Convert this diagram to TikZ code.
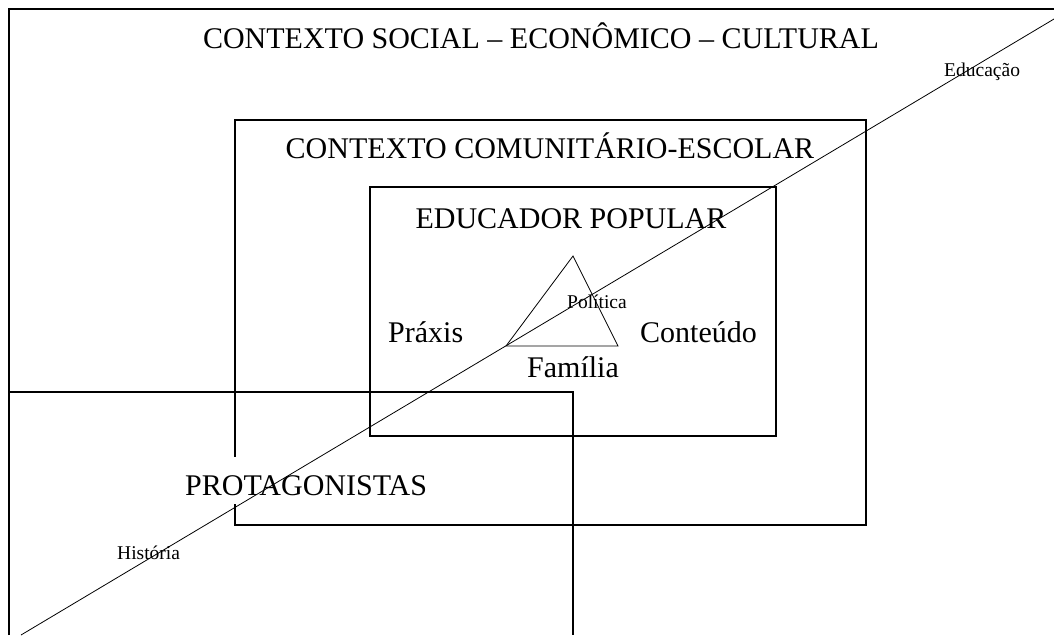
\documentclass[tikz,border=0pt]{standalone}
\usepackage{fontspec}
\setmainfont{Liberation Serif}

\tikzset{
  boxline/.style={line width=1.8pt},
  thinline/.style={line width=0.8pt},
  biglabel/.style={font=\fontsize{30}{36}\selectfont, inner sep=0pt},
  smalllabel/.style={font=\fontsize{19.5}{23}\selectfont, inner sep=0pt},
}

\begin{document}
\begin{tikzpicture}[x=1pt,y=-1pt]
\useasboundingbox (0,0) rectangle (1054,635);

% Outer context (only top and left edges in view)
\draw[boxline] (9,635) -- (9,9) -- (1054,9);

% Community-school box
\draw[boxline] (235,120) rectangle (866,525);

% Educator box
\draw[boxline] (370,187) rectangle (776,436);

% Protagonists box
\draw[boxline] (9,392) -- (573,392) -- (573,635);

% Titles of the boxes
\node[biglabel, anchor=base] (social) at (541,48) {CONTEXTO SOCIAL – ECONÔMICO – CULTURAL};
\node[biglabel, anchor=base] (escolar) at (550,158) {CONTEXTO COMUNITÁRIO-ESCOLAR};
\node[biglabel, anchor=base] (educador) at (571,228) {EDUCADOR POPULAR};
\node[biglabel, anchor=base west, fill=white, inner xsep=4pt, inner ysep=4pt,
      text height=34pt, text depth=5pt] (protag) at (181,495) {PROTAGONISTAS};

% Triangle and its corners
\coordinate (apex) at (573,256);
\coordinate (left) at (506,346);
\coordinate (right) at (618,346);
\draw[thinline] (left) -- (apex) -- (right) -- cycle;

\node[biglabel, anchor=base west] (praxis) at (388,342) {Práxis};
\node[biglabel, anchor=base west] (conteudo) at (640,342) {Conteúdo};
\node[biglabel, anchor=base] (familia) at (573,377) {Família};
\node[smalllabel, anchor=base west] (politica) at (567,308) {Política};

% Diagonal axis: Historia -- Educacao
\coordinate (histend) at (21,635);
\coordinate (eduend) at (1054,19);
\node[smalllabel, anchor=base west] (historia) at (117,559) {História};
\node[smalllabel, anchor=base west] (educacao) at (944,76) {Educação};
\draw[thinline] (histend) -- (eduend);

\end{tikzpicture}
\end{document}
